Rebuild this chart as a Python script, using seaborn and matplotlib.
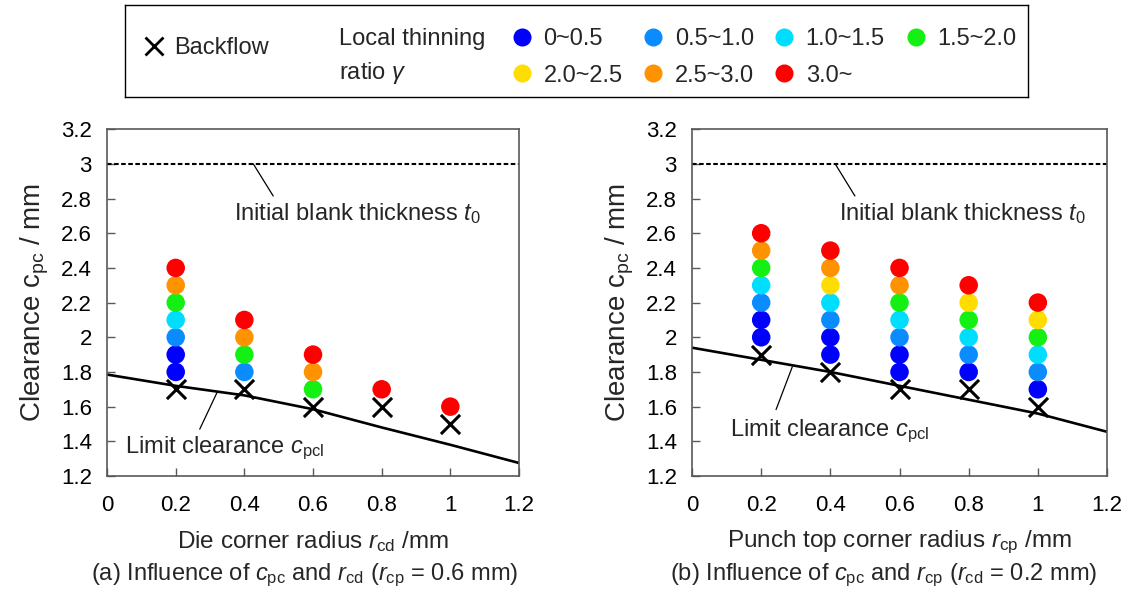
import matplotlib
matplotlib.use('Agg')
import matplotlib.pyplot as plt
import seaborn as sns
import pandas as pd
from matplotlib.lines import Line2D
from matplotlib.ticker import FuncFormatter

sns.set_style('ticks')
plt.rcParams['font.family'] = ['Liberation Sans', 'DejaVu Sans']
plt.rcParams['mathtext.fontset'] = 'custom'
plt.rcParams['mathtext.rm'] = 'Liberation Sans'
plt.rcParams['mathtext.it'] = 'Liberation Sans:italic'
plt.rcParams['font.size'] = 17

# thinning ratio classes and colours
classes = ['0~0.5', '0.5~1.0', '1.0~1.5', '1.5~2.0', '2.0~2.5', '2.5~3.0', '3.0~']
colors = ['#0000ff', '#0a8cff', '#00deff', '#14f014', '#ffdd00', '#ff9200', '#ff0000']

# (a) r_cp = 0.6 mm, varying die corner radius
a_x = [0.2, 0.2, 0.2, 0.2, 0.2, 0.2, 0.2, 0.4, 0.4, 0.4, 0.4, 0.6, 0.6, 0.6, 0.8, 1.0]
a_c = [1.8, 1.9, 2.0, 2.1, 2.2, 2.3, 2.4, 1.8, 1.9, 2.0, 2.1, 1.7, 1.8, 1.9, 1.7, 1.6]
a_g = ['0~0.5', '0~0.5', '0.5~1.0', '1.0~1.5', '1.5~2.0', '2.5~3.0', '3.0~',
       '0.5~1.0', '1.5~2.0', '2.5~3.0', '3.0~',
       '1.5~2.0', '2.5~3.0', '3.0~',
       '3.0~',
       '3.0~']
a_back_x = [0.2, 0.4, 0.6, 0.8, 1.0]
a_back_c = [1.7, 1.7, 1.6, 1.6, 1.5]
a_lim_x = [0, 0.2, 0.4, 0.6, 0.8, 1.0, 1.2]
a_lim_c = [1.785, 1.72, 1.665, 1.585, 1.48, 1.38, 1.275]

# (b) r_cd = 0.2 mm, varying punch top corner radius
b_x = [0.2, 0.2, 0.2, 0.2, 0.2, 0.2, 0.2,
       0.4, 0.4, 0.4, 0.4, 0.4, 0.4, 0.4,
       0.6, 0.6, 0.6, 0.6, 0.6, 0.6, 0.6,
       0.8, 0.8, 0.8, 0.8, 0.8, 0.8,
       1.0, 1.0, 1.0, 1.0, 1.0, 1.0]
b_c = [2.0, 2.1, 2.2, 2.3, 2.4, 2.5, 2.6,
       1.9, 2.0, 2.1, 2.2, 2.3, 2.4, 2.5,
       1.8, 1.9, 2.0, 2.1, 2.2, 2.3, 2.4,
       1.8, 1.9, 2.0, 2.1, 2.2, 2.3,
       1.7, 1.8, 1.9, 2.0, 2.1, 2.2]
b_g = ['0~0.5', '0~0.5', '0.5~1.0', '1.0~1.5', '1.5~2.0', '2.5~3.0', '3.0~',
       '0~0.5', '0~0.5', '0.5~1.0', '1.0~1.5', '2.0~2.5', '2.5~3.0', '3.0~',
       '0~0.5', '0~0.5', '0.5~1.0', '1.0~1.5', '1.5~2.0', '2.5~3.0', '3.0~',
       '0~0.5', '0.5~1.0', '1.0~1.5', '1.5~2.0', '2.0~2.5', '3.0~',
       '0~0.5', '0.5~1.0', '1.0~1.5', '1.5~2.0', '2.0~2.5', '3.0~']
b_back_x = [0.2, 0.4, 0.6, 0.8, 1.0]
b_back_c = [1.9, 1.8, 1.7, 1.7, 1.6]
b_lim_x = [0, 0.2, 0.4, 0.6, 0.8, 1.0, 1.2]
b_lim_c = [1.94, 1.87, 1.80, 1.72, 1.64, 1.56, 1.455]

palette = dict(zip(classes, colors))
spine_col = '#595959'


def fmt(v, pos):
    return '%g' % round(v, 2)


def panel(ax, xs, cs, gs, bx, bc, lx, lc, xlabel, t0_txt, t0_lead, lim_txt, lim_lead):
    sns.lineplot(x=lx, y=lc, ax=ax, color='black', lw=1.9, zorder=2)
    ax.axhline(3.0, color='black', lw=1.5, ls=(0, (2.2, 1.2)), zorder=2)
    df = pd.DataFrame({'r': xs, 'c': cs, 'g': gs})
    sns.scatterplot(data=df, x='r', y='c', hue='g', palette=palette, hue_order=classes,
                    s=178, edgecolor='none', legend=False, ax=ax, zorder=3)
    sns.scatterplot(x=bx, y=bc, marker='x', color='black', s=190, linewidth=2.2,
                    ax=ax, zorder=4)
    ax.set_xlim(0, 1.2)
    ax.set_ylim(1.2, 3.2)
    ax.set_xticks([0, 0.2, 0.4, 0.6, 0.8, 1.0, 1.2])
    ax.set_yticks([1.2, 1.4, 1.6, 1.8, 2.0, 2.2, 2.4, 2.6, 2.8, 3.0, 3.2])
    ax.xaxis.set_major_formatter(FuncFormatter(fmt))
    ax.yaxis.set_major_formatter(FuncFormatter(fmt))
    ax.tick_params(direction='in', length=6, width=1, color=spine_col, labelsize=16,
                   labelcolor='black')
    ax.tick_params(axis='x', pad=14)
    ax.tick_params(axis='y', pad=11)
    for s in ax.spines.values():
        s.set_visible(True)
        s.set_color(spine_col)
        s.set_linewidth(1.2)
    ax.set_xlabel(xlabel, fontsize=17.5, labelpad=9)
    ax.set_ylabel(r'Clearance $\mathrm{c}_{\mathrm{pc}}$ / mm', fontsize=20, labelpad=7)
    ax.text(t0_txt[0], t0_txt[1], r'Initial blank thickness $t_0$', fontsize=17,
            va='center', ha='left')
    ax.plot(t0_lead[0], t0_lead[1], color='black', lw=0.9)
    ax.text(lim_txt[0], lim_txt[1], r'Limit clearance $c_{\mathrm{pcl}}$', fontsize=17,
            va='center', ha='left')
    ax.plot(lim_lead[0], lim_lead[1], color='black', lw=0.9)


fig = plt.figure(figsize=(11.28, 6.01), dpi=100)
ax1 = fig.add_axes([0.0949, 0.208, 0.3652, 0.577])
ax2 = fig.add_axes([0.6135, 0.208, 0.3679, 0.577])

panel(ax1, a_x, a_c, a_g, a_back_x, a_back_c, a_lim_x, a_lim_c,
      r'Die corner radius $r_{\mathrm{cd}}$ /mm',
      (0.37, 2.715), ([0.426, 0.484], [3.0, 2.815]),
      (0.052, 1.36), ([0.32, 0.27], [1.68, 1.47]))
panel(ax2, b_x, b_c, b_g, b_back_x, b_back_c, b_lim_x, b_lim_c,
      r'Punch top corner radius $r_{\mathrm{cp}}$ /mm',
      (0.425, 2.715), ([0.414, 0.471], [3.0, 2.815]),
      (0.11, 1.457), ([0.29, 0.243], [1.83, 1.583]))

fig.text(0.27, 0.043, r'(a) Influence of $c_{\mathrm{pc}}$ and $r_{\mathrm{cd}}$ ($r_{\mathrm{cp}}$ = 0.6 mm)',
         ha='center', va='center', fontsize=17)
fig.text(0.783, 0.043, r'(b) Influence of $c_{\mathrm{pc}}$ and $r_{\mathrm{cp}}$ ($r_{\mathrm{cd}}$ = 0.2 mm)',
         ha='center', va='center', fontsize=17)

# legend box
lax = fig.add_axes([0.111, 0.839, 0.800, 0.153])
lax.set_xticks([])
lax.set_yticks([])
for s in lax.spines.values():
    s.set_color('black')
    s.set_linewidth(1.0)

h_back = [Line2D([], [], marker='x', color='black', ls='none', markersize=13, mew=2)]
leg1 = lax.legend(h_back, ['Backflow'], loc='center left', bbox_to_anchor=(0.019, 0.53),
                  frameon=False, handlelength=1.0, handletextpad=0.35, fontsize=17,
                  borderpad=0, borderaxespad=0)
lax.add_artist(leg1)
lax.text(0.237, 0.43, 'Local thinning\nratio $\\gamma$', fontsize=17, va='center', ha='left',
         linespacing=1.55, transform=lax.transAxes)

h_cls = [Line2D([], [], marker='o', color=c, ls='none', markersize=13, mew=0) for c in colors]
order = [0, 4, 1, 5, 2, 6, 3]
lax.legend([h_cls[i] for i in order], [classes[i] for i in order], ncol=4,
           loc='center left', bbox_to_anchor=(0.427, 0.43), frameon=False,
           handlelength=1.0, handletextpad=0.4, columnspacing=0.8, labelspacing=0.62,
           fontsize=17, borderpad=0, borderaxespad=0)

fig.savefig('out.png', dpi=100)
